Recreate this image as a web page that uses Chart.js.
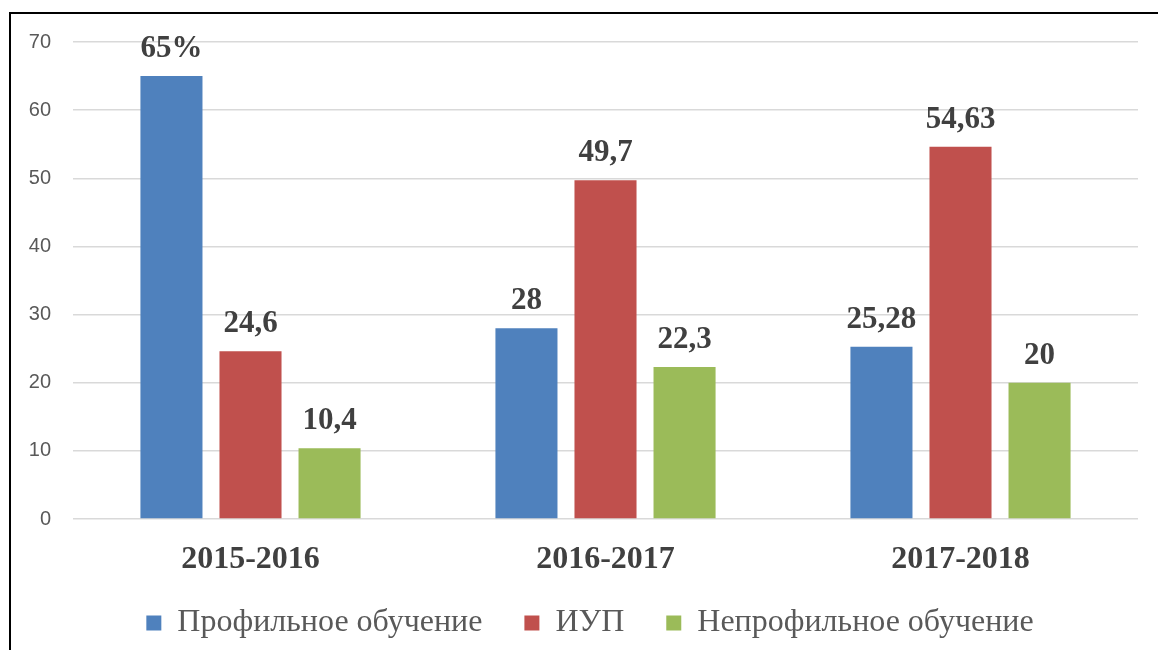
<!DOCTYPE html>
<html>
<head>
<meta charset="utf-8">
<script src="https://cdn.jsdelivr.net/npm/chart.js@4.4.1/dist/chart.umd.min.js"></script>
<style>
  html, body { margin: 0; padding: 0; background: #fff; }
  #wrap { position: relative; width: 1158px; height: 650px; overflow: hidden; }
  #frame { position: absolute; left: 9px; top: 12px; width: 1300px; height: 800px;
           border-left: 2px solid #000; border-top: 2px solid #000; }
  canvas { position: absolute; left: 0; top: 0; }
</style>
</head>
<body>
<div id="wrap">
  <div id="frame"></div>
  <canvas id="chart" width="1158" height="650"></canvas>
</div>
<script>
// данные
const years = ['2015-2016', '2016-2017', '2017-2018']
const profile = [65, 28, 25.28]
const iup = [24.6, 49.7, 54.63]
const nonProfile = [10.4, 22.3, 20]
const yTicks = [0, 10, 20, 30, 40, 50, 60, 70]

const serif = "'Liberation Serif', 'Times New Roman', serif"

// подписи над столбцами
const barLabels = {
  id: 'barLabels',
  afterDatasetsDraw(chart) {
    const ctx = chart.ctx
    ctx.save()
    ctx.font = 'bold 31px ' + serif
    ctx.fillStyle = '#404040'
    ctx.textAlign = 'center'
    ctx.textBaseline = 'alphabetic'
    chart.data.datasets.forEach((ds, i) => {
      const meta = chart.getDatasetMeta(i)
      meta.data.forEach((bar, j) => {
        let txt = String(ds.data[j]).replace('.', ',')
        if (i === 0 && j === 0) txt += '%'
        ctx.fillText(txt, bar.x, bar.y - 19)
      })
    })
    ctx.restore()
  }
}

// высота и положение легенды
const legendPlace = {
  id: 'legendPlace',
  beforeLayout(chart) {
    const lg = chart.legend
    if (lg && !lg._patched) {
      const fit = lg.fit.bind(lg)
      lg.fit = function () { fit(); this.height = 85 }
      lg._patched = true
    }
  },
  afterLayout(chart) {
    const lg = chart.legend
    lg.left += 11
    lg.right += 11
  }
}

const ctx = document.getElementById('chart')
new Chart(ctx, {
  type: 'bar',
  data: {
    labels: years,
    datasets: [
      { label: 'Профильное обучение', data: profile, backgroundColor: '#4F81BD' },
      { label: 'ИУП', data: iup, backgroundColor: '#C0504D' },
      { label: 'Непрофильное обучение', data: nonProfile, backgroundColor: '#9BBB59' }
    ]
  },
  options: {
    responsive: false,
    animation: false,
    layout: { padding: { left: 20, right: 20, top: 42, bottom: 0 } },
    datasets: { bar: { categoryPercentage: 0.668, barPercentage: 0.785 } },
    scales: {
      x: {
        grid: { display: false },
        border: { display: false },
        ticks: {
          color: '#404040',
          padding: 14,
          font: { family: serif, size: 32, weight: 'bold' }
        },
        afterFit(axis) {
          axis.height = 46
          axis._computeLabelArea = () => undefined
        }
      },
      y: {
        min: 0,
        max: 70,
        afterBuildTicks(axis) { axis.ticks = yTicks.map(v => ({ value: v })) },
        grid: { color: '#d9d9d9', lineWidth: 1.5, drawTicks: false },
        border: { display: false },
        ticks: {
          color: '#595959',
          padding: 22,
          font: { family: "'Liberation Sans', Arial, sans-serif", size: 20 }
        },
        afterFit(axis) { axis.width = 53 }
      }
    },
    plugins: {
      tooltip: { enabled: false },
      legend: {
        position: 'bottom',
        labels: {
          boxWidth: 15,
          boxHeight: 15,
          padding: 42,
          color: '#595959',
          font: { family: serif, size: 32 }
        }
      }
    }
  },
  plugins: [barLabels, legendPlace]
})
</script>
</body>
</html>
